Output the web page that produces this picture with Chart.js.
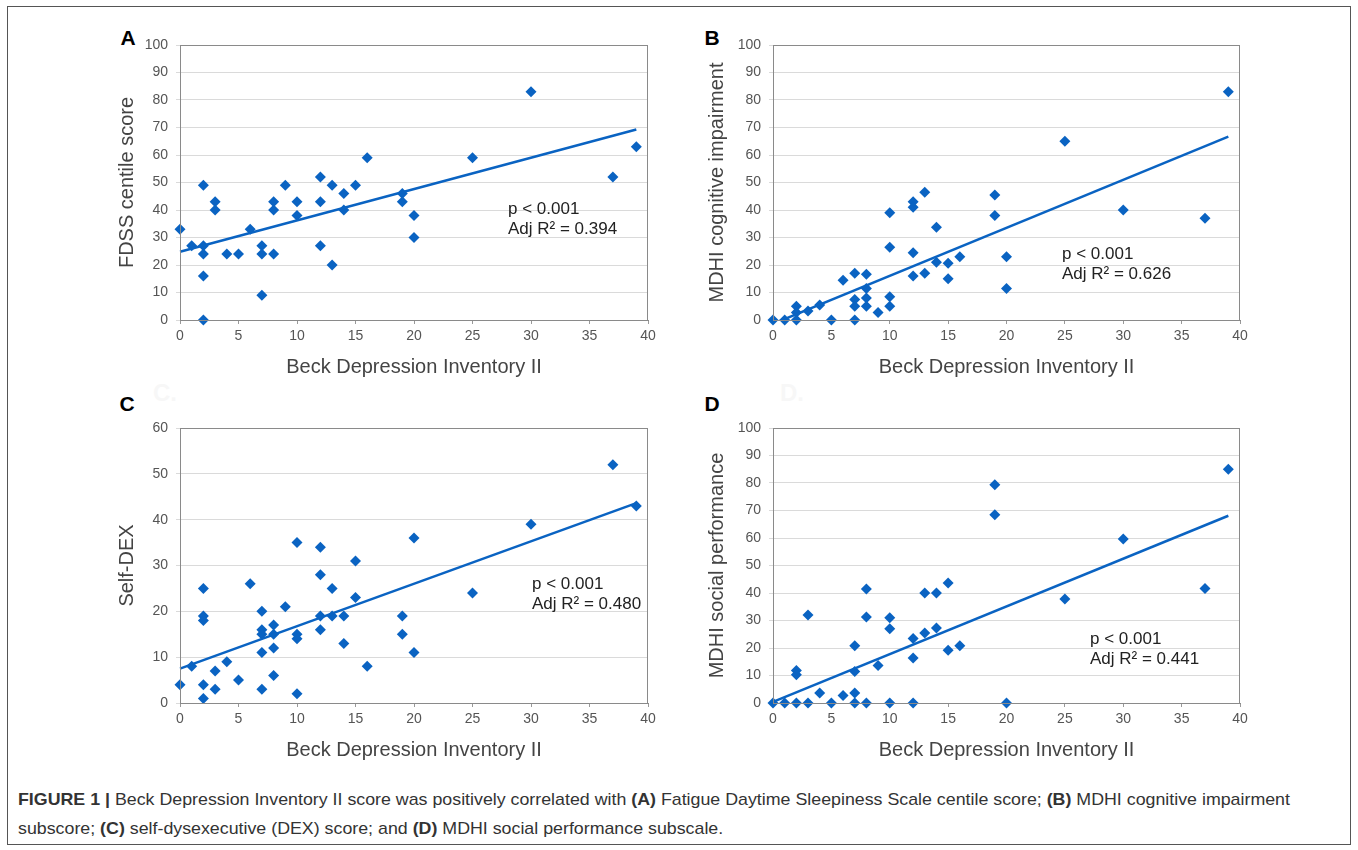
<!DOCTYPE html>
<html>
<head>
<meta charset="utf-8">
<script src="https://cdn.jsdelivr.net/npm/chart.js@4/dist/chart.umd.min.js"></script>
<style>
  html, body { margin: 0; padding: 0; background: #ffffff; }
  body { width: 1358px; height: 850px; position: relative; overflow: hidden; font-family: "Liberation Sans", Arial, sans-serif; }
  #frame { position: absolute; left: 7px; top: 6px; width: 1344px; height: 839px; border: 1px solid #555; box-sizing: border-box; }
  .panel { position: absolute; }
  .letter { position: absolute; font-weight: bold; font-size: 21px; color: #000; transform: translate(-50%, -50%); line-height: 1; }
  .ghost { position: absolute; font-weight: bold; font-size: 24px; color: #f7f7f7; transform: translate(-50%, -50%); line-height: 1; }
  .note { position: absolute; font-size: 17px; line-height: 20px; color: #222; white-space: nowrap; }
  #cap { position: absolute; left: 18px; top: 785px; font-size: 17px; line-height: 29px; color: #333; white-space: nowrap; transform-origin: left top; }
</style>
</head>
<body>
<div id="frame"></div>

<div class="letter" style="left:128px; top:37px;">A</div>
<div class="letter" style="left:712px; top:37px;">B</div>
<div class="letter" style="left:127px; top:403px;">C</div>
<div class="letter" style="left:712px; top:403px;">D</div>
<div class="ghost" style="left:165px; top:393px;">C.</div>
<div class="ghost" style="left:792px; top:393px;">D.</div>

<canvas id="cA" class="panel" style="left:100px; top:20px;" width="570" height="370"></canvas>
<canvas id="cB" class="panel" style="left:693px; top:20px;" width="570" height="370"></canvas>
<canvas id="cC" class="panel" style="left:100px; top:403px;" width="570" height="370"></canvas>
<canvas id="cD" class="panel" style="left:693px; top:403px;" width="570" height="370"></canvas>

<div class="note" style="left:508px; top:199px;">p &lt; 0.001<br>Adj R² = 0.394</div>
<div class="note" style="left:1062px; top:244px;">p &lt; 0.001<br>Adj R² = 0.626</div>
<div class="note" style="left:532px; top:574px;">p &lt; 0.001<br>Adj R² = 0.480</div>
<div class="note" style="left:1090px; top:629px;">p &lt; 0.001<br>Adj R² = 0.441</div>

<div id="cap"><span id="capLine1"><b>FIGURE 1 |</b> Beck Depression Inventory II score was positively correlated with <b>(A)</b> Fatigue Daytime Sleepiness Scale centile score; <b>(B)</b> MDHI cognitive impairment</span><br>subscore; <b>(C)</b> self-dysexecutive (DEX) score; and <b>(D)</b> MDHI social performance subscale.</div>

<script>
// ---- Data ----
const xTitle = 'Beck Depression Inventory II';

// Panel A: FDSS centile score
const bdiA  = [0,1,2,2,2,2,2,3,3,4,5,6,7,7,7,8,8,8,9,10,10,12,12,12,13,13,14,14,15,16,19,19,20,20,25,30,37,39];
const fdssA = [33,27,49,27,24,16,0,43,40,24,24,33,27,24,9,43,40,24,49,43,38,52,43,27,49,20,46,40,49,59,46,43,38,30,59,83,52,63];
const trendXA = [0, 39];
const trendYA = [24.8, 69.3];

// Panel B: MDHI cognitive impairment
const bdiB  = [0,1,2,2,2,3,4,5,6,7,7,7,7,8,8,8,8,9,10,10,10,10,12,12,12,12,13,13,14,14,15,15,16,19,19,20,20,25,30,37,39];
const mdhiCogB = [0,0,5,2.7,0,3.3,5.5,0,14.5,17,7.5,5,0,16.6,11.5,8,5,2.7,39,26.5,8.5,5,43,41,24.5,16,46.5,17,33.7,21,20.6,15,23,45.5,38,23,11.5,65,40,37,83];
const trendXB = [0, 39];
const trendYB = [-1.4, 66.7];

// Panel C: Self-DEX
const bdiC  = [0,1,2,2,2,2,2,3,3,4,5,6,7,7,7,7,7,8,8,8,8,9,10,10,10,10,12,12,12,12,13,13,14,14,15,15,16,19,19,20,20,25,30,37,39];
const dexC  = [4,8,25,19,18,4,1,7,3,9,5,26,20,16,15,11,3,17,15,12,6,21,35,15,14,2,34,28,19,16,25,19,19,13,31,23,8,19,15,36,11,24,39,52,43];
const trendXC = [0, 39];
const trendYC = [7.5, 43.6];

// Panel D: MDHI social performance
const bdiD  = [0,1,2,2,2,3,3,4,5,6,7,7,7,7,8,8,8,9,10,10,10,12,12,12,13,13,14,14,15,15,16,19,19,20,25,30,37,39];
const mdhiSocD = [0,0,11.8,10.3,0,32,0,3.6,0,2.7,20.8,11.5,3.6,0,41.5,31.3,0,13.6,31,27,0,23.5,16.4,0,40,25.5,40,27.3,43.6,19.2,20.8,79.4,68.5,0,37.8,59.6,41.6,85];
const trendXD = [0, 39];
const trendYD = [0.4, 68.1];

// ---- Rendering ----
const FONT = '"Liberation Sans", Arial, sans-serif';
const BLUE = '#0a63c2';

const framePlugin = {
  id: 'frameBox',
  afterDatasetsDraw(chart) {
    const a = chart.chartArea, ctx = chart.ctx;
    ctx.save();
    ctx.strokeStyle = '#8a8a8a';
    ctx.lineWidth = 1;
    ctx.strokeRect(Math.round(a.left) + 0.5, Math.round(a.top) + 0.5, Math.round(a.right - a.left) - 1, Math.round(a.bottom - a.top));
    ctx.restore();
  }
};

function pairs(xs, ys) { return xs.map((x, i) => ({ x: x, y: ys[i] })); }

function makePanel(id, xs, ys, tx, ty, yMax, yTitle, titlePad, padRight) {
  new Chart(document.getElementById(id), {
    type: 'scatter',
    data: {
      datasets: [
        {
          data: pairs(tx, ty), showLine: true, borderColor: BLUE, borderWidth: 2.5,
          pointRadius: 0, order: 0, clip: 1
        },
        {
          data: pairs(xs, ys), backgroundColor: BLUE, borderColor: BLUE, borderWidth: 0,
          pointStyle: 'rectRot', pointRadius: 5.5, order: 1, clip: false
        }
      ]
    },
    options: {
      responsive: false, animation: false, devicePixelRatio: 1,
      layout: { padding: { top: 25, right: padRight, bottom: 0, left: 0 } },
      plugins: { legend: { display: false }, tooltip: { enabled: false } },
      scales: {
        x: {
          type: 'linear', min: 0, max: 40,
          ticks: { stepSize: 5, color: '#555', font: { family: FONT, size: 14 }, padding: 4 },
          grid: { drawOnChartArea: false, drawTicks: true, tickLength: 4, color: '#999' },
          border: { color: '#8a8a8a', width: 1 },
          title: { display: true, text: xTitle, color: '#444', font: { family: FONT, size: 20 }, padding: { top: 0, bottom: 11 } },
          afterFit: s => { s.height = 70; }
        },
        y: {
          type: 'linear', min: 0, max: yMax,
          ticks: { stepSize: 10, color: '#555', font: { family: FONT, size: 14 }, padding: 8 },
          grid: { color: '#dadada', tickLength: 4 },
          border: { color: '#8a8a8a', width: 1 },
          title: { display: true, text: yTitle, color: '#444', font: { family: FONT, size: 20 }, padding: { top: titlePad, bottom: 0 } },
          afterFit: s => { s.width = 80; }
        }
      }
    },
    plugins: [framePlugin]
  });
}

makePanel('cA', bdiA, fdssA, trendXA, trendYA, 100, 'FDSS centile score', 15, 22);
makePanel('cB', bdiB, mdhiCogB, trendXB, trendYB, 100, 'MDHI cognitive impairment', 12, 23);
makePanel('cC', bdiC, dexC, trendXC, trendYC, 60, 'Self-DEX', 15, 22);
makePanel('cD', bdiD, mdhiSocD, trendXD, trendYD, 100, 'MDHI social performance', 12, 23);

// fit caption line width to the figure's measure
(function () {
  const l1 = document.getElementById('capLine1');
  const w = l1.getBoundingClientRect().width;
  const target = 1272;
  if (w > 0) document.getElementById('cap').style.transform = 'scaleX(' + (target / w).toFixed(4) + ')';
})();
</script>
</body>
</html>
